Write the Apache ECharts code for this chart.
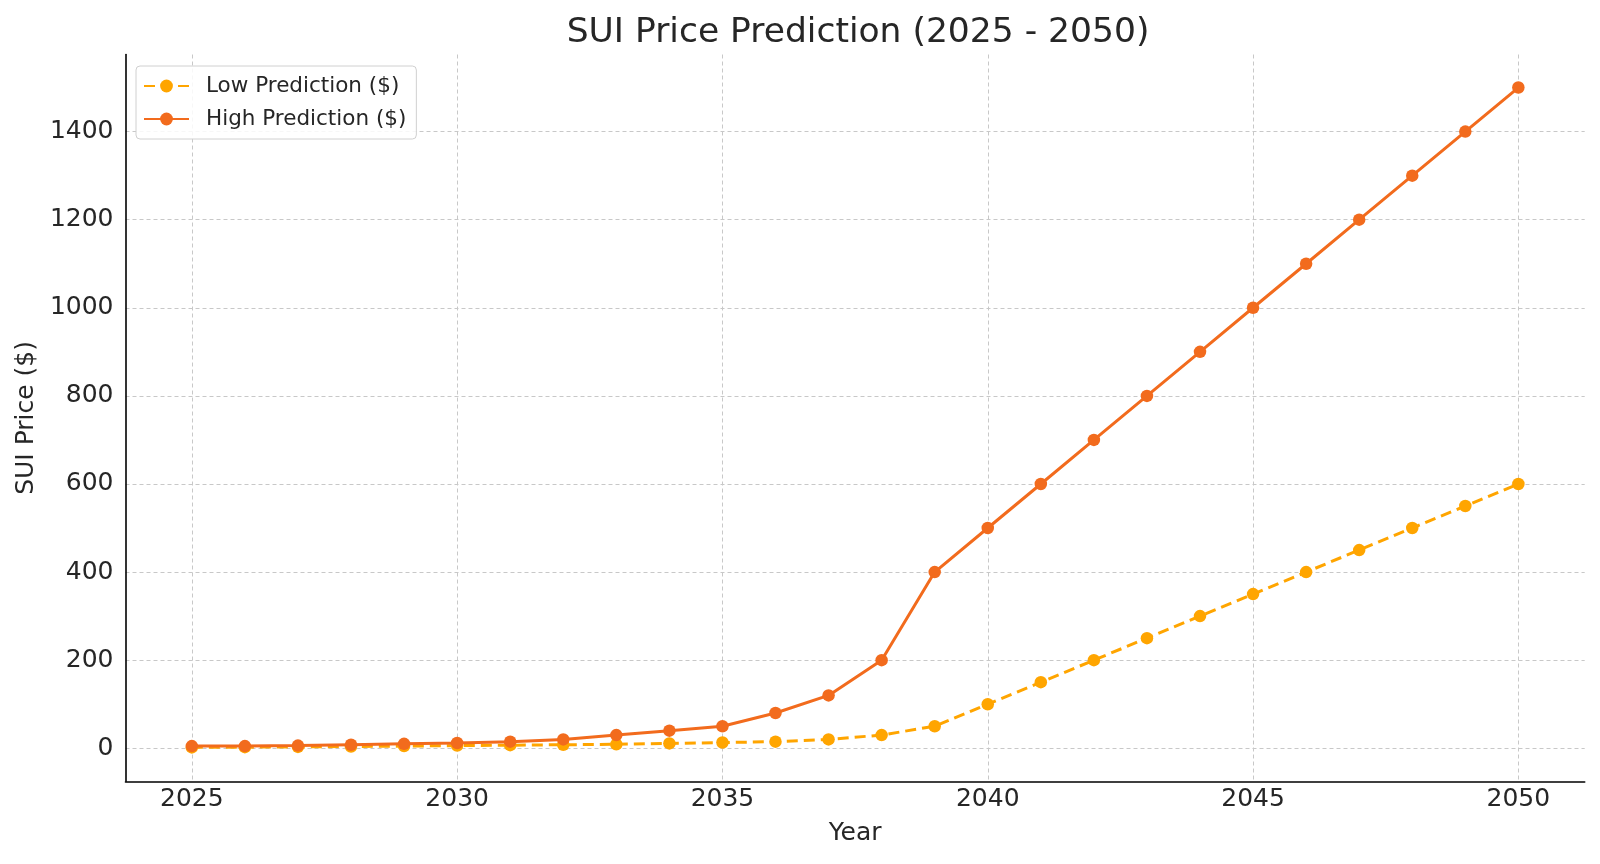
<!DOCTYPE html>
<html>
<head>
<meta charset="utf-8">
<script src="https://cdn.jsdelivr.net/npm/echarts@6/dist/echarts.min.js"></script>
<style>html,body{margin:0;padding:0;background:#fff}#c{width:1600px;height:864px}</style>
</head>
<body>
<div id="c"></div>
<script>
const years = [2025,2026,2027,2028,2029,2030,2031,2032,2033,2034,2035,2036,2037,2038,2039,2040,2041,2042,2043,2044,2045,2046,2047,2048,2049,2050];
const lowPrediction = [2,2.5,3,4,5,6,7,8,9,11,13,15,20,30,50,100,150,200,250,300,350,400,450,500,550,600];
const highPrediction = [5,5,6,8,10,12,15,20,30,40,50,80,120,200,400,500,600,700,800,900,1000,1100,1200,1300,1400,1500];
const xTicks = [2025,2030,2035,2040,2045,2050];
const yTicks = [0,200,400,600,800,1000,1200,1400];

const FONT = 'DejaVu Sans';
const chart = echarts.init(document.getElementById('c'), null, {renderer:'canvas'});
const gridLine = {show:true, lineStyle:{color:'#c8c8c8', width:1, type:[4,3]}};
chart.setOption({
  animation:false,
  backgroundColor:'#ffffff',
  title:{
    text:'SUI Price Prediction (2025 - 2050)',
    left:853, top:11, textAlign:'center',
    textStyle:{fontFamily:FONT, fontSize:34.5, fontWeight:'normal', color:'#262626'}
  },
  legend:{
    orient:'vertical', left:136, top:66,
    padding:[9,10,9,7], itemGap:11, itemWidth:45, itemHeight:16,
    backgroundColor:'rgba(255,255,255,0.85)', borderColor:'#d0d0d0', borderWidth:1, borderRadius:4,
    textStyle:{fontFamily:FONT, fontSize:21.5, color:'#262626', lineHeight:22, padding:[0,0,0,12]},
    data:['Low Prediction ($)','High Prediction ($)']
  },
  grid:{left:125.5, right:15.3, top:54.5, bottom:82.7, containLabel:false},
  xAxis:{
    type:'value', min:2023.75, max:2051.25,
    name:'Year', nameLocation:'middle', nameGap:40,
    nameTextStyle:{fontFamily:FONT, fontSize:25, color:'#262626'},
    axisLine:{show:true, onZero:false, lineStyle:{color:'#000', width:1.6}},
    axisTick:{show:false, customValues:xTicks},
    axisLabel:{customValues:xTicks, formatter:v=>String(v), fontFamily:FONT, fontSize:25, color:'#262626', margin:6},
    splitLine:gridLine
  },
  yAxis:{
    type:'value', min:-75, max:1575,
    name:'SUI Price ($)', nameLocation:'middle', nameGap:80, nameRotate:90,
    nameTextStyle:{fontFamily:FONT, fontSize:25, color:'#262626'},
    axisLine:{show:true, onZero:false, lineStyle:{color:'#000', width:1.6}},
    axisTick:{show:false, customValues:yTicks},
    axisLabel:{customValues:yTicks, formatter:v=>String(v), fontFamily:FONT, fontSize:25, color:'#262626', margin:12},
    splitLine:gridLine
  },
  series:[
    {
      name:'Low Prediction ($)', type:'line',
      data:years.map((y,i)=>[y, lowPrediction[i]]),
      symbol:'circle', symbolSize:12.5, showSymbol:true,
      itemStyle:{color:'#FFA500'},
      lineStyle:{color:'#FFA500', width:3, type:[11,6]},
      z:2
    },
    {
      name:'High Prediction ($)', type:'line',
      data:years.map((y,i)=>[y, highPrediction[i]]),
      symbol:'circle', symbolSize:12.5, showSymbol:true,
      itemStyle:{color:'#F26B1D'},
      lineStyle:{color:'#F26B1D', width:3, type:'solid'},
      z:3
    }
  ]
});
</script>
</body>
</html>
